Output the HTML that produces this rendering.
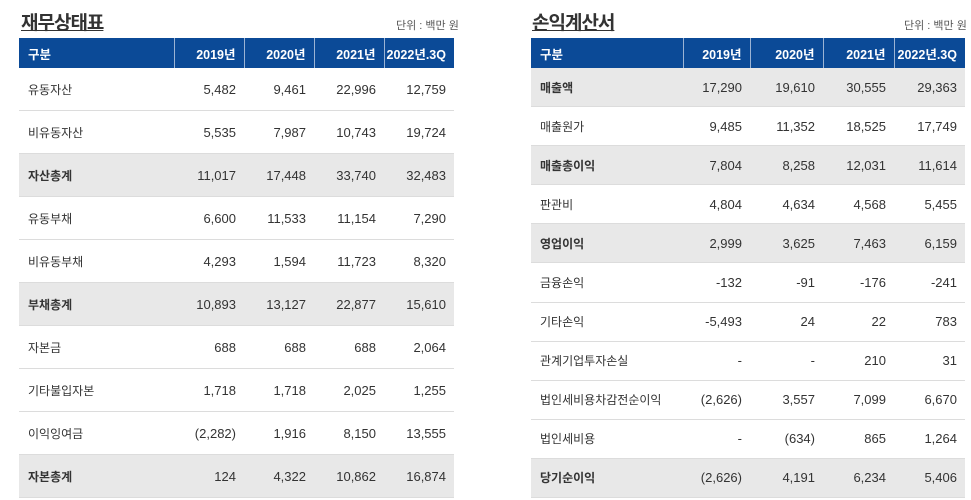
<!DOCTYPE html>
<html><head><meta charset="utf-8"><style>
body{margin:0;width:971px;height:500px;overflow:hidden;background:#fff;font-family:"Liberation Sans","Noto Sans CJK KR",sans-serif;color:#333;position:relative}
.title{position:absolute;top:8px;font-size:19px;font-weight:bold;text-decoration:underline;color:#333;letter-spacing:-1px}
.unit{position:absolute;top:17px;font-size:11px;color:#555}
table{position:absolute;top:38px;border-collapse:collapse;table-layout:fixed;font-size:13px}
th{background:#0b4a97;color:#fff;height:30px;padding:0 8px 0 0;text-align:right;font-weight:bold;font-size:12.5px;border-left:1px solid #9bb3d4}
th:first-child{text-align:left;padding-left:9px;border-left:none}
td{text-align:right;padding:0 8px 0 0;border-bottom:1px solid #dcdcdc;white-space:nowrap}
td:first-child{text-align:left;padding-left:9px;font-size:12px}
tr.b td{background:#e8e8e8}
tr.b td:first-child{font-weight:bold}
#lt td{height:42px}
#rt td{height:38.1px}
</style></head><body>
<div class="title" style="left:21px">재무상태표</div>
<div class="unit" style="left:396px">단위 : 백만 원</div>
<table id="lt" style="left:19px;width:435px">
<colgroup><col style="width:155px"><col style="width:70px"><col style="width:70px"><col style="width:70px"><col style="width:70px"></colgroup>
<tr><th>구분</th><th>2019년</th><th>2020년</th><th>2021년</th><th>2022년.3Q</th></tr>
<tr><td>유동자산</td><td>5,482</td><td>9,461</td><td>22,996</td><td>12,759</td></tr>
<tr><td>비유동자산</td><td>5,535</td><td>7,987</td><td>10,743</td><td>19,724</td></tr>
<tr class="b"><td>자산총계</td><td>11,017</td><td>17,448</td><td>33,740</td><td>32,483</td></tr>
<tr><td>유동부채</td><td>6,600</td><td>11,533</td><td>11,154</td><td>7,290</td></tr>
<tr><td>비유동부채</td><td>4,293</td><td>1,594</td><td>11,723</td><td>8,320</td></tr>
<tr class="b"><td>부채총계</td><td>10,893</td><td>13,127</td><td>22,877</td><td>15,610</td></tr>
<tr><td>자본금</td><td>688</td><td>688</td><td>688</td><td>2,064</td></tr>
<tr><td>기타불입자본</td><td>1,718</td><td>1,718</td><td>2,025</td><td>1,255</td></tr>
<tr><td>이익잉여금</td><td>(2,282)</td><td>1,916</td><td>8,150</td><td>13,555</td></tr>
<tr class="b"><td>자본총계</td><td>124</td><td>4,322</td><td>10,862</td><td>16,874</td></tr>
</table>
<div class="title" style="left:532px">손익계산서</div>
<div class="unit" style="left:904px">단위 : 백만 원</div>
<table id="rt" style="left:531px;width:434px">
<colgroup><col style="width:152px"><col style="width:67px"><col style="width:73px"><col style="width:71px"><col style="width:71px"></colgroup>
<tr><th>구분</th><th>2019년</th><th>2020년</th><th>2021년</th><th>2022년.3Q</th></tr>
<tr class="b"><td>매출액</td><td>17,290</td><td>19,610</td><td>30,555</td><td>29,363</td></tr>
<tr><td>매출원가</td><td>9,485</td><td>11,352</td><td>18,525</td><td>17,749</td></tr>
<tr class="b"><td>매출총이익</td><td>7,804</td><td>8,258</td><td>12,031</td><td>11,614</td></tr>
<tr><td>판관비</td><td>4,804</td><td>4,634</td><td>4,568</td><td>5,455</td></tr>
<tr class="b"><td>영업이익</td><td>2,999</td><td>3,625</td><td>7,463</td><td>6,159</td></tr>
<tr><td>금융손익</td><td>-132</td><td>-91</td><td>-176</td><td>-241</td></tr>
<tr><td>기타손익</td><td>-5,493</td><td>24</td><td>22</td><td>783</td></tr>
<tr><td>관계기업투자손실</td><td>-</td><td>-</td><td>210</td><td>31</td></tr>
<tr><td>법인세비용차감전순이익</td><td>(2,626)</td><td>3,557</td><td>7,099</td><td>6,670</td></tr>
<tr><td>법인세비용</td><td>-</td><td>(634)</td><td>865</td><td>1,264</td></tr>
<tr class="b"><td>당기순이익</td><td>(2,626)</td><td>4,191</td><td>6,234</td><td>5,406</td></tr>
</table>
</body></html>
